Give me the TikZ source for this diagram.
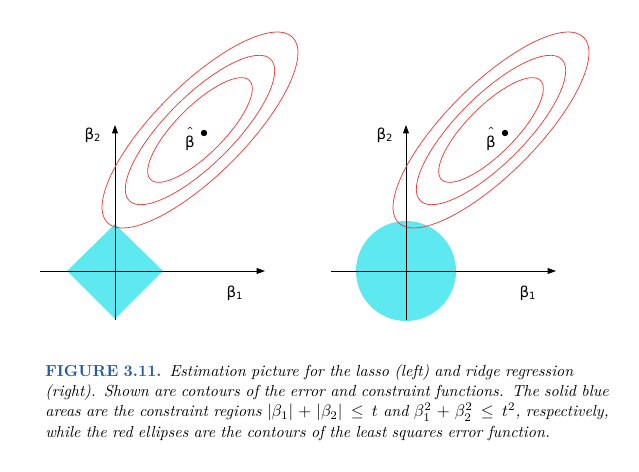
\documentclass[tikz,border=0pt]{standalone}
\usepackage{fontspec}
\newfontfamily\greekfont{DejaVu Sans}
\usetikzlibrary{arrows.meta}
\definecolor{region}{RGB}{94,232,240}
\definecolor{figblue}{RGB}{40,90,160}
\definecolor{contourred}{RGB}{235,60,60}
\tikzset{
  axis/.style={-{Triangle[length=5pt,width=3.5pt]}, line width=0.5pt},
  contour/.style={contourred, line width=0.45pt},
  blabel/.style={font=\greekfont\small}
}
\begin{document}
\begin{tikzpicture}[x=0.6pt,y=0.6pt]
\useasboundingbox (0,0) rectangle (639,-472);
% lasso (left)
\fill[region] (115,-224) -- (163,-271) -- (115,-319) -- (67,-271) -- cycle;
\draw[axis] (40,-271) -- (265,-271);
\draw[axis] (115,-320) -- (115,-125);
\draw[contour, rotate around={45:(200,-130)}] (200,-130) ellipse (131 and 45);
\draw[contour, rotate around={45:(200,-130)}] (200,-130) ellipse (100 and 34);
\draw[contour, rotate around={45:(200,-130)}] (200,-130) ellipse (70 and 24);
\fill (204,-133) circle (3.2);
\node[blabel] (bhatl) at (190,-143) {β};
\node[blabel, font=\greekfont\tiny] (hatl) at (190,-130) {\^{}};
\node[blabel] (b2l) at (93,-135) {β\textsubscript{2}};
\node[blabel] (b1l) at (235,-293) {β\textsubscript{1}};
% ridge (right)
\fill[region] (406,-271) circle (50);
\draw[axis] (331,-271) -- (556,-271);
\draw[axis] (406,-320) -- (406,-125);
\draw[contour, rotate around={45:(491,-130)}] (491,-130) ellipse (131 and 45);
\draw[contour, rotate around={45:(491,-130)}] (491,-130) ellipse (100 and 34);
\draw[contour, rotate around={45:(491,-130)}] (491,-130) ellipse (70 and 24);
\fill (505,-133) circle (3.2);
\node[blabel] (bhatr) at (491,-143) {β};
\node[blabel, font=\greekfont\tiny] (hatr) at (491,-130) {\^{}};
\node[blabel] (b2r) at (385,-135) {β\textsubscript{2}};
\node[blabel] (b1r) at (528,-293) {β\textsubscript{1}};
% caption
\node[anchor=north west, text width=338pt, align=left, inner sep=0pt,
      font=\fontsize{9.6}{12.2}\selectfont\itshape] (cap) at (45,-364)
  {\makebox[338pt][s]{\textcolor{figblue}{\upshape\bfseries FIGURE 3.11.} Estimation picture for the lasso (left) and ridge regression}\\
   \makebox[338pt][s]{(right). Shown are contours of the error and constraint functions. The solid blue}\\
   \makebox[338pt][s]{areas are the constraint regions $|\beta_1|+|\beta_2|\le t$ and $\beta_1^2+\beta_2^2\le t^2$, respectively,}\\
   while the red ellipses are the contours of the least squares error function.};
\end{tikzpicture}
\end{document}
